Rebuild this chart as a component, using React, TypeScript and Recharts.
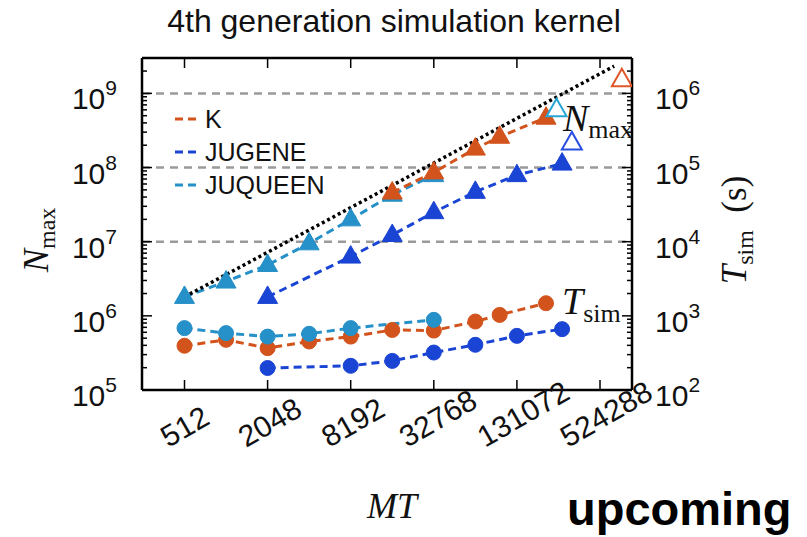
import React from 'react';
import { ComposedChart, Line, XAxis, YAxis, ReferenceLine } from 'recharts';

// ---------- data ----------
const K_MT_N = [16384, 32768, 65536, 98304, 212992];
const K_NMAX = [4.6e7, 8.6e7, 1.8e8, 2.6e8, 4.7e8];
const K_MT_T = [512, 1024, 2048, 4096, 8192, 16384, 32768, 65536, 98304, 212992];
const K_TSIM = [395, 475, 367, 451, 525, 645, 633, 838, 1030, 1480];

const JUGENE_MT = [2048, 8192, 16384, 32768, 65536, 131072, 278528];
const JUGENE_NMAX = [1.8e6, 6.3e6, 1.23e7, 2.5e7, 4.7e7, 7.9e7, 1.13e8];
const JUGENE_TSIM = [198, 212, 247, 320, 407, 537, 662];

const JUQUEEN_MT_N = [512, 1024, 2048, 4096, 8192, 16384, 32768];
const JUQUEEN_NMAX = [1.8e6, 2.9e6, 4.85e6, 9.5e6, 2.0e7, 4.3e7, 7.9e7];
const JUQUEEN_MT_T = [512, 1024, 2048, 4096, 8192, 32768];
const JUQUEEN_TSIM = [683, 585, 525, 573, 683, 883];

const UPCOMING_NAMES = ['K', 'JUGENE', 'JUQUEEN'];
const UPCOMING_MT = [755000, 327680, 253952];
const UPCOMING_NMAX = [1.53e9, 2.15e8, 6.0e8];

const IDEAL_MT = [512, 663552];
const IDEAL_NMAX = [1.8e6, 2.33e9];

const X_TICKS = [512, 2048, 8192, 32768, 131072, 524288];
const NMAX_DECADES = [5, 6, 7, 8, 9];
const TSIM_DECADES = [2, 3, 4, 5, 6];
const GRID_NMAX = [1e7, 1e8, 1e9];
const LEGEND_NAMES = ['K', 'JUGENE', 'JUQUEEN'];

// ---------- styles ----------
const C_K = '#d3531c';
const C_JUGENE = '#1a44d4';
const C_JUQUEEN = '#2690c8';
const SERIES_COLORS: Record<string, string> = { K: C_K, JUGENE: C_JUGENE, JUQUEEN: C_JUQUEEN };
const OPEN_COLORS: Record<string, string> = { K: '#e0582a', JUGENE: '#2a4ee0', JUQUEEN: '#27a6d6' };
const SANS = '"Liberation Sans", Arial, sans-serif';
const SERIF = '"Liberation Serif", "Times New Roman", serif';

const X_DOMAIN: [number, number] = [252, 894000];
const NMAX_DOMAIN: [number, number] = [1e5, 3e9];
const TSIM_DOMAIN: [number, number] = [1e2, 3e6];

const zip = (xs: number[], ys: number[], key: string) => xs.map((x, i) => ({ x, [key]: ys[i] }));
const kN = zip(K_MT_N, K_NMAX, 'n');
const kT = zip(K_MT_T, K_TSIM, 't');
const jgN = zip(JUGENE_MT, JUGENE_NMAX, 'n');
const jgT = zip(JUGENE_MT, JUGENE_TSIM, 't');
const jqN = zip(JUQUEEN_MT_N, JUQUEEN_NMAX, 'n');
const jqT = zip(JUQUEEN_MT_T, JUQUEEN_TSIM, 't');
const upcoming = UPCOMING_MT.map((x, i) => ({ x, n: UPCOMING_NMAX[i], name: UPCOMING_NAMES[i] }));
const ideal = zip(IDEAL_MT, IDEAL_NMAX, 'n');

const logTicks = (decades: number[], max: number) => {
  const out: number[] = [];
  decades.forEach((d) => {
    for (let m = 1; m <= 9; m++) {
      const v = m * Math.pow(10, d);
      if (v <= max * 1.0001) out.push(v);
    }
  });
  return out;
};
const NMAX_TICKS = logTicks(NMAX_DECADES, NMAX_DOMAIN[1]);
const TSIM_TICKS = logTicks(TSIM_DECADES, TSIM_DOMAIN[1]);
const isMajor = (v: number) => Math.abs(Math.log10(v) - Math.round(Math.log10(v))) < 1e-6;

// ---------- markers ----------
const triangle = (cx: number, cy: number) =>
  `${cx},${cy - 11} ${cx - 10},${cy + 6.5} ${cx + 10},${cy + 6.5}`;

const makeTri = (color: string) => (p: any) => {
  if (p.cx == null || p.cy == null) return <g key={p.index} />;
  return <polygon key={p.index} points={triangle(p.cx, p.cy)} fill={color} stroke={color} strokeWidth={1} />;
};
const makeCircle = (color: string) => (p: any) => {
  if (p.cx == null || p.cy == null) return <g key={p.index} />;
  return <circle key={p.index} cx={p.cx} cy={p.cy} r={7.5} fill={color} stroke={color} />;
};
const openTri = (p: any) => {
  if (p.cx == null || p.cy == null) return <g key={p.index} />;
  const c = OPEN_COLORS[p.payload.name];
  return <polygon key={p.index} points={triangle(p.cx, p.cy)} fill="#fff" stroke={c} strokeWidth={2} />;
};

// ---------- ticks ----------
const Pow = ({ x, y, exp, anchor }: { x: number; y: number; exp: number; anchor: 'start' | 'end' }) => (
  <text x={x} y={y + 16} textAnchor={anchor} fontFamily={SANS} fontSize={30} fill="#111">
    10
    <tspan fontSize={21} dy={-14}>{exp}</tspan>
  </text>
);

const LeftTick = (p: any) => {
  const { x, y, payload } = p;
  const major = isMajor(payload.value);
  return (
    <g>
      <line x1={x} x2={x + (major ? 10 : 5)} y1={y} y2={y} stroke="#000" strokeWidth={1.5} />
      {major && <Pow x={x - 25} y={y} exp={Math.round(Math.log10(payload.value))} anchor="end" />}
    </g>
  );
};
const RightTick = (p: any) => {
  const { x, y, payload } = p;
  const major = isMajor(payload.value);
  return (
    <g>
      <line x1={x} x2={x - (major ? 10 : 5)} y1={y} y2={y} stroke="#000" strokeWidth={1.5} />
      {major && <Pow x={x + 23} y={y} exp={Math.round(Math.log10(payload.value))} anchor="start" />}
    </g>
  );
};
const BottomTick = (p: any) => {
  const { x, y, payload } = p;
  const s = String(payload.value);
  const fs = 30;
  const deg = 30;
  const ang = (deg * Math.PI) / 180;
  const w = s.length * 0.556 * fs;
  const bh = w * Math.sin(ang) + 0.72 * fs * Math.cos(ang);
  const cx = x + (s.length - 3) * 2;
  const cy = y + 58 - bh / 2;
  return (
    <g>
      <line x1={x} x2={x} y1={y} y2={y - 10} stroke="#000" strokeWidth={1.5} />
      <text
        x={cx}
        y={cy + 0.36 * fs}
        textAnchor="middle"
        transform={`rotate(-${deg} ${cx} ${cy})`}
        fontFamily={SANS}
        fontSize={fs}
        fill="#111"
      >
        {s}
      </text>
    </g>
  );
};
const TopTick = (p: any) => {
  const { x, y } = p;
  return <line x1={x} x2={x} y1={y} y2={y + 10} stroke="#000" strokeWidth={1.5} />;
};

const axisLine = { stroke: '#000', strokeWidth: 2.5 };

export default function App() {
  return (
    <div style={{ position: 'absolute', left: 0, top: 0, width: 807, height: 537, background: '#fff' }}>
      <ComposedChart width={807} height={537} margin={{ top: 0, right: 0, bottom: 0, left: 0 }}>
        <XAxis
          xAxisId="b"
          dataKey="x"
          type="number"
          scale="log"
          domain={X_DOMAIN}
          allowDataOverflow
          ticks={X_TICKS}
          tick={BottomTick}
          tickLine={false}
          tickSize={0}
          tickMargin={0}
          axisLine={axisLine}
          height={147}
          orientation="bottom"
        />
        <XAxis
          xAxisId="t"
          dataKey="x"
          type="number"
          scale="log"
          domain={X_DOMAIN}
          allowDataOverflow
          ticks={X_TICKS}
          tick={TopTick}
          tickLine={false}
          tickSize={0}
          tickMargin={0}
          axisLine={axisLine}
          height={58}
          orientation="top"
        />
        <YAxis
          yAxisId="left"
          type="number"
          scale="log"
          domain={NMAX_DOMAIN}
          allowDataOverflow
          ticks={NMAX_TICKS}
          tick={LeftTick}
          tickLine={false}
          tickSize={0}
          tickMargin={0}
          axisLine={axisLine}
          width={142}
          orientation="left"
          interval={0}
        />
        <YAxis
          yAxisId="right"
          type="number"
          scale="log"
          domain={TSIM_DOMAIN}
          allowDataOverflow
          ticks={TSIM_TICKS}
          tick={RightTick}
          tickLine={false}
          tickSize={0}
          tickMargin={0}
          axisLine={axisLine}
          width={175}
          orientation="right"
          interval={0}
        />
        {GRID_NMAX.map((g) => (
          <ReferenceLine
            key={g}
            xAxisId="b"
            yAxisId="left"
            y={g}
            stroke="#9a9a9a"
            strokeWidth={2.5}
            strokeDasharray="8 6"
          />
        ))}
        {/* T_sim series (right axis) */}
        <Line xAxisId="b" yAxisId="right" data={kT} dataKey="t" stroke={C_K} strokeWidth={3} strokeDasharray="8 5" dot={makeCircle(C_K)} isAnimationActive={false} />
        <Line xAxisId="b" yAxisId="right" data={jgT} dataKey="t" stroke={C_JUGENE} strokeWidth={3} strokeDasharray="8 5" dot={makeCircle(C_JUGENE)} isAnimationActive={false} />
        <Line xAxisId="b" yAxisId="right" data={jqT} dataKey="t" stroke={C_JUQUEEN} strokeWidth={3} strokeDasharray="8 5" dot={makeCircle(C_JUQUEEN)} isAnimationActive={false} />
        {/* N_max series (left axis) */}
        <Line xAxisId="b" yAxisId="left" data={jgN} dataKey="n" stroke={C_JUGENE} strokeWidth={3} strokeDasharray="8 5" dot={makeTri(C_JUGENE)} isAnimationActive={false} />
        <Line xAxisId="b" yAxisId="left" data={jqN} dataKey="n" stroke={C_JUQUEEN} strokeWidth={3} strokeDasharray="8 5" dot={makeTri(C_JUQUEEN)} isAnimationActive={false} />
        <Line xAxisId="b" yAxisId="left" data={kN} dataKey="n" stroke={C_K} strokeWidth={3} strokeDasharray="8 5" dot={makeTri(C_K)} isAnimationActive={false} />
        <Line xAxisId="b" yAxisId="left" data={ideal} dataKey="n" stroke="#000" strokeWidth={3.5} strokeDasharray="3 3" dot={false} isAnimationActive={false} />
        <Line xAxisId="b" yAxisId="left" data={upcoming} dataKey="n" stroke="none" dot={openTri} isAnimationActive={false} />
      </ComposedChart>
      <svg width={807} height={537} style={{ position: 'absolute', left: 0, top: 0, pointerEvents: 'none' }}>
        <text x={394} y={32} textAnchor="middle" fontFamily={SANS} fontSize={32} fill="#111">
          4th generation simulation kernel
        </text>
        {LEGEND_NAMES.map((name, i) => {
          const by = 128 + i * 33;
          return (
            <g key={name}>
              <line x1={175} x2={196} y1={by - 9} y2={by - 9} stroke={SERIES_COLORS[name]} strokeWidth={3} strokeDasharray="8 5" />
              <text x={205} y={by} fontFamily={SANS} fontSize={25} fill="#111">{name}</text>
            </g>
          );
        })}
        <text x={563} y={131} fontFamily={SERIF} fontSize={38} fill="#111">
          <tspan fontStyle="italic">N</tspan>
          <tspan fontSize={26} dy={7}>max</tspan>
        </text>
        <text x={562} y={314} fontFamily={SERIF} fontSize={38} fill="#111">
          <tspan fontStyle="italic">T</tspan>
          <tspan fontSize={26} dy={8}>sim</tspan>
        </text>
        <text transform="rotate(-90 48 240)" x={48} y={240} textAnchor="middle" fontFamily={SERIF} fontSize={35} fill="#111">
          <tspan fontStyle="italic">N</tspan>
          <tspan fontSize={24} dy={7}>max</tspan>
        </text>
        <text transform="rotate(-90 746 230)" x={746} y={230} textAnchor="middle" fontFamily={SERIF} fontSize={35} fill="#111">
          <tspan fontStyle="italic">T</tspan>
          <tspan fontSize={24} dy={7}>sim</tspan>
          <tspan dy={-7}>{'\u2002(s)'}</tspan>
        </text>
        <text x={392} y={518} textAnchor="middle" fontFamily={SERIF} fontStyle="italic" fontSize={36} fill="#111">
          MT
        </text>
        <text x={567} y={525} fontFamily={SANS} fontWeight="bold" fontSize={47} fill="#000">
          upcoming
        </text>
      </svg>
    </div>
  );
}
